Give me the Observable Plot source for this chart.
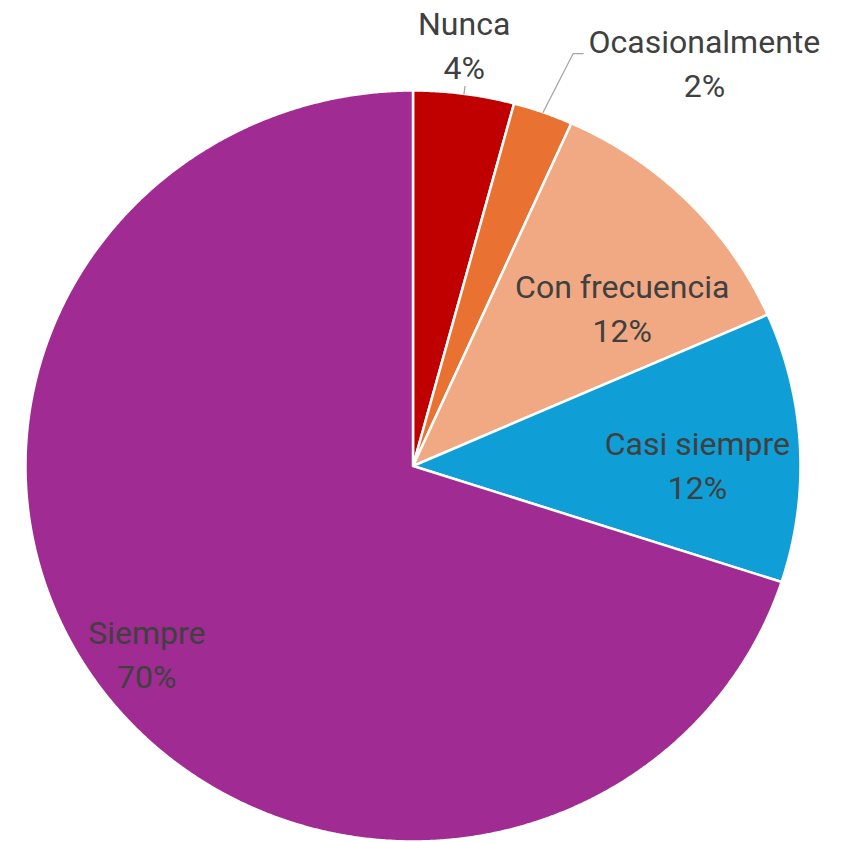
<!DOCTYPE html>
<html><head><meta charset="utf-8">
<script src="https://cdn.jsdelivr.net/npm/d3@7"></script>
<script src="https://cdn.jsdelivr.net/npm/@observablehq/plot@0.6"></script>
<style>body{margin:0;background:#fff}</style>
</head><body><div id="chart"></div>
<script>
const categories = ["Nunca", "Ocasionalmente", "Con frecuencia", "Casi siempre", "Siempre"];
const values = [4.2, 2.5, 11.7, 11.6, 70.0];
const valueLabels = ["4%", "2%", "12%", "12%", "70%"];
const colors = ["#C00000", "#E97132", "#F1A983", "#0F9ED5", "#A02B93"];

// Label placement (in unit-circle coordinates) — layout config, not data
const placement = {
  "Nunca":          {x: 0.132, y: 1.128, leader: "tick"},
  "Ocasionalmente": {x: 0.752, y: 1.079, leader: "elbow", elbow: [0.413, 1.098], end: [0.439, 1.098]},
  "Con frecuencia": {x: 0.540, y: 0.426},
  "Casi siempre":   {x: 0.734, y: 0.009},
  "Siempre":        {x: -0.687, y: -0.494}
};

const total = d3.sum(values);
let cum = 0;
const slices = categories.map((c, i) => {
  const a0 = cum / total * 2 * Math.PI;
  cum += values[i];
  const a1 = cum / total * 2 * Math.PI;
  return {cat: c, a0, a1, mid: (a0 + a1) / 2, pct: valueLabels[i]};
});

const polyPts = [];
for (const s of slices) {
  polyPts.push({cat: s.cat, x: 0, y: 0});
  const n = Math.max(2, Math.ceil((s.a1 - s.a0) / 0.005));
  for (let k = 0; k <= n; k++) {
    const a = s.a0 + (s.a1 - s.a0) * k / n;
    polyPts.push({cat: s.cat, x: Math.sin(a), y: Math.cos(a)});
  }
  polyPts.push({cat: s.cat, x: 0, y: 0});
}

const labelData = slices.map(s => ({
  cat: s.cat,
  x: placement[s.cat].x,
  y: placement[s.cat].y,
  text: s.cat + "\n" + s.pct
}));

const leaderPts = [];
for (const s of slices) {
  const p = placement[s.cat];
  if (p.leader === "tick") {
    leaderPts.push({cat: s.cat, x: Math.sin(s.mid), y: Math.cos(s.mid)});
    leaderPts.push({cat: s.cat, x: 1.02 * Math.sin(s.mid), y: 1.02 * Math.cos(s.mid)});
  } else if (p.leader === "elbow") {
    leaderPts.push({cat: s.cat, x: Math.sin(s.mid), y: Math.cos(s.mid)});
    leaderPts.push({cat: s.cat, x: p.elbow[0], y: p.elbow[1]});
    leaderPts.push({cat: s.cat, x: p.end[0], y: p.end[1]});
  }
}

const chart = Plot.plot({
  width: 845,
  height: 842,
  margin: 0,
  style: {background: "#fff", fontFamily: "Roboto, sans-serif"},
  x: {domain: [-1, 1], range: [25, 800], axis: null},
  y: {domain: [-1, 1], range: [841, 90], axis: null},
  color: {domain: categories, range: colors},
  marks: [
    Plot.line(polyPts, {x: "x", y: "y", z: "cat", fill: "cat", stroke: "#fff", strokeWidth: 2.5, strokeLinejoin: "round", curve: "linear"}),
    Plot.line(leaderPts, {x: "x", y: "y", z: "cat", stroke: "#A6A6A6", strokeWidth: 1.3}),
    Plot.text(labelData, {x: "x", y: "y", text: "text", fontSize: 32, lineHeight: 1.375, fill: "#404040", fontFamily: "Roboto, sans-serif"})
  ]
});
document.getElementById("chart").appendChild(chart);
</script>
</body></html>
